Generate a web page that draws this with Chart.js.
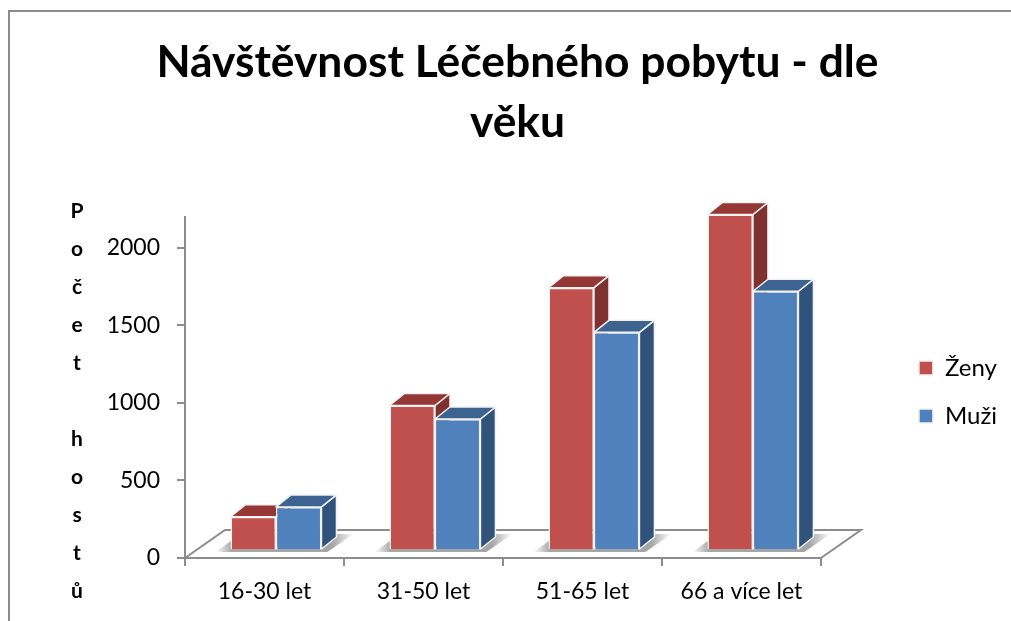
<!DOCTYPE html>
<html lang="cs">
<head>
<meta charset="utf-8">
<title>Návštěvnost Léčebného pobytu - dle věku</title>
<script src="https://cdn.jsdelivr.net/npm/chart.js@4/dist/chart.umd.min.js"></script>
<style>
  html, body { margin: 0; padding: 0; background: #fff; overflow: hidden; }
  #wrap { position: relative; width: 1011px; height: 621px; }
  #frame { position: absolute; left: 8px; top: 10px; right: 0; bottom: 0; border-left: 2px solid #8c8c8c; border-top: 2px solid #8c8c8c; }
  canvas { position: absolute; left: 0; top: 0; }
</style>
</head>
<body>
<div id="wrap">
  <div id="frame"></div>
  <canvas id="chart" width="1011" height="621"></canvas>
</div>
<script>
// data
const categories = ['16-30 let', '31-50 let', '51-65 let', '66 a více let'];
const zeny = [215, 932, 1692, 2164];
const muzi = [278, 845, 1404, 1669];
const yTicks = [0, 500, 1000, 1500, 2000];
const titleLines = ['Návštěvnost Léčebného pobytu - dle', 'věku'];
const yTitle = 'Počet hostů';

const FONT = 'Lato, Carlito, sans-serif';
const AXIS_GREY = '#8c8c8c';

// fake 3D: the bars stand a bit behind the front edge of the floor
const BAR_SHIFT_X = 11.5;
const BAR_SHIFT_Y = -8;
const DEPTH_X = 15;
const DEPTH_Y = 12;
const FLOOR_X = 40;
const FLOOR_Y = 28;

const faceColors = [
  { top: '#953735', side: '#7f3130' },
  { top: '#3d6491', side: '#31527b' },
];

function poly(ctx, pts) {
  ctx.beginPath();
  pts.forEach((p, i) => i ? ctx.lineTo(p[0], p[1]) : ctx.moveTo(p[0], p[1]));
  ctx.closePath();
}

// title and legend do not sit where the layout puts them, nudge them after it
const nudgePlugin = {
  id: 'nudge',
  afterLayout(chart) {
    const t = chart.titleBlock;
    t.left += 39;
    t.right += 39;
    const l = chart.legend;
    l.left += 74;
    l.right += 74;
    l.top += 65;
    l.bottom += 65;
  },
};

const floorPlugin = {
  id: 'floor',
  beforeDatasetsDraw(chart) {
    const { ctx, chartArea: a } = chart;
    ctx.save();
    ctx.strokeStyle = AXIS_GREY;
    ctx.lineWidth = 2;
    ctx.beginPath();
    ctx.moveTo(a.left, a.bottom);
    ctx.lineTo(a.left + FLOOR_X, a.bottom - FLOOR_Y);
    ctx.lineTo(a.right + FLOOR_X, a.bottom - FLOOR_Y);
    ctx.lineTo(a.right, a.bottom);
    ctx.stroke();
    ctx.restore();
  },
};

const barsPlugin = {
  id: 'bars3d',
  beforeDatasetsDraw(chart) {
    const { ctx } = chart;
    ctx.save();
    ctx.translate(BAR_SHIFT_X, BAR_SHIFT_Y);

    // shadows on the floor, one per category
    const first = chart.getDatasetMeta(0).data;
    const last = chart.getDatasetMeta(1).data;
    first.forEach((bar, i) => {
      const x0 = bar.x - bar.width / 2;
      const x1 = last[i].x + last[i].width / 2;
      const b = bar.base;
      const g = ctx.createLinearGradient(x0 - 15, 0, x1 + 32, 0);
      g.addColorStop(0, 'rgba(150,150,150,0)');
      g.addColorStop(0.12, 'rgba(150,150,150,0.85)');
      g.addColorStop(0.85, 'rgba(150,150,150,0.85)');
      g.addColorStop(1, 'rgba(150,150,150,0)');
      ctx.fillStyle = g;
      poly(ctx, [[x0 - 15, b + 3], [x1 + 6, b + 3], [x1 + 32, b - 15], [x0 + 10, b - 15]]);
      ctx.fill();
    });

    // side and top faces, the fronts come from the bar elements
    chart.data.datasets.forEach((ds, d) => {
      chart.getDatasetMeta(d).data.forEach(bar => {
        const x0 = bar.x - bar.width / 2;
        const x1 = bar.x + bar.width / 2;
        ctx.strokeStyle = '#f2f2f2';
        ctx.lineWidth = 1.5;
        ctx.lineJoin = 'round';
        ctx.fillStyle = faceColors[d].side;
        poly(ctx, [[x1, bar.y], [x1 + DEPTH_X, bar.y - DEPTH_Y], [x1 + DEPTH_X, bar.base - DEPTH_Y], [x1, bar.base]]);
        ctx.fill();
        ctx.stroke();
        ctx.fillStyle = faceColors[d].top;
        poly(ctx, [[x0, bar.y], [x0 + DEPTH_X, bar.y - DEPTH_Y], [x1 + DEPTH_X, bar.y - DEPTH_Y], [x1, bar.y]]);
        ctx.fill();
        ctx.stroke();
      });
    });
  },
  afterDatasetsDraw(chart) {
    chart.ctx.restore();
  },
};

// the axis title is set one letter under the other
const stackedTitlePlugin = {
  id: 'stackedTitle',
  afterDraw(chart) {
    const { ctx } = chart;
    ctx.save();
    ctx.font = 'bold 21px ' + FONT;
    ctx.fillStyle = '#000';
    ctx.textAlign = 'center';
    ctx.textBaseline = 'middle';
    Array.from(yTitle).forEach((ch, i) => ctx.fillText(ch, 77, 211 + i * 38));
    ctx.restore();
  },
};

new Chart(document.getElementById('chart'), {
  type: 'bar',
  data: {
    labels: categories,
    datasets: [
      { label: 'Ženy', data: zeny, backgroundColor: '#c0504d', borderColor: '#f2f2f2', borderWidth: 1.5, clip: false },
      { label: 'Muži', data: muzi, backgroundColor: '#4f81bd', borderColor: '#f2f2f2', borderWidth: 1.5, clip: false },
    ],
  },
  plugins: [nudgePlugin, floorPlugin, barsPlugin, stackedTitlePlugin],
  options: {
    responsive: false,
    animation: false,
    layout: { padding: { left: 24, right: 78, top: 33, bottom: 0 } },
    datasets: { bar: { categoryPercentage: 0.572, barPercentage: 1 } },
    plugins: {
      tooltip: { enabled: false },
      title: {
        display: true,
        text: titleLines,
        color: '#000',
        font: { family: FONT, size: 44.4, weight: 'bold', lineHeight: 1.35 },
        padding: { top: 0, bottom: 64 },
      },
      legend: {
        position: 'right',
        labels: {
          color: '#000',
          font: { family: FONT, size: 24 },
          boxWidth: 14,
          boxHeight: 14,
          padding: 24,
        },
      },
    },
    scales: {
      x: {
        afterFit(scale) { scale.height = 63; },
        border: { color: AXIS_GREY, width: 2 },
        grid: { drawOnChartArea: false, color: AXIS_GREY, lineWidth: 2, tickLength: 8 },
        ticks: { color: '#000', font: { family: FONT, size: 23 }, padding: 12, maxRotation: 0 },
      },
      y: {
        min: 0,
        max: 2200,
        afterBuildTicks(scale) { scale.ticks = yTicks.map(value => ({ value })); },
        afterFit(scale) { scale.width = 161; },
        border: { color: AXIS_GREY, width: 2 },
        grid: { drawOnChartArea: false, color: AXIS_GREY, lineWidth: 2, tickLength: 8 },
        ticks: { color: '#000', font: { family: FONT, size: 23 }, padding: 17, callback: v => String(v) },
      },
    },
  },
});
</script>
</body>
</html>
